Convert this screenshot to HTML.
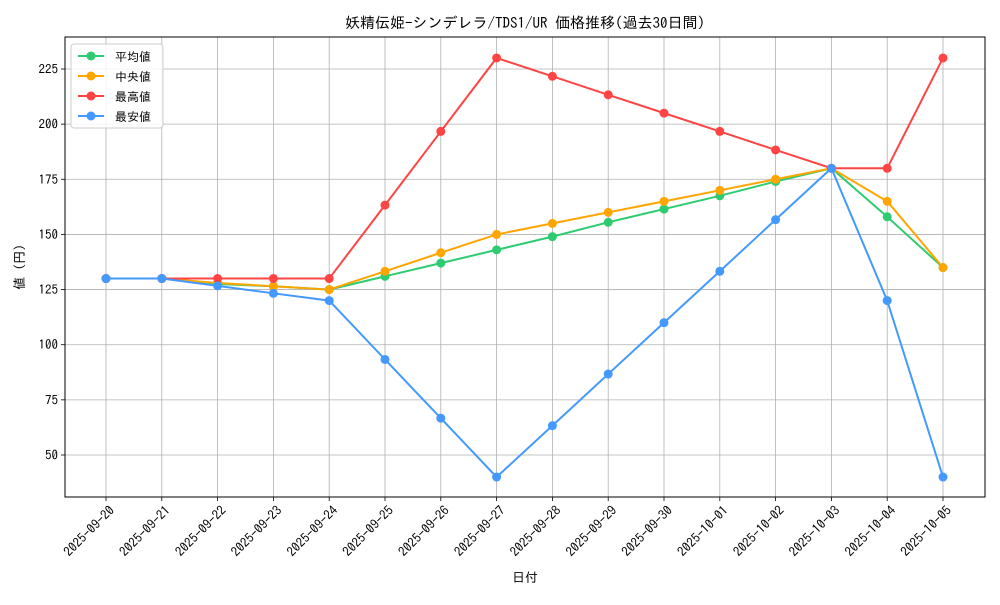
<!DOCTYPE html>
<html><head><meta charset="utf-8"><style>
body{margin:0;background:#fff;}
svg text{font-family:"IPAGothic","Liberation Sans","Noto Sans CJK JP",sans-serif;fill:#000;}
</style></head><body>
<svg id="chart" width="1000" height="600" xmlns="http://www.w3.org/2000/svg"></svg>
<script>
const categories=["2025-09-20","2025-09-21","2025-09-22","2025-09-23","2025-09-24","2025-09-25","2025-09-26","2025-09-27","2025-09-28","2025-09-29","2025-09-30","2025-10-01","2025-10-02","2025-10-03","2025-10-04","2025-10-05"];
const avgValues=[130,130,127.5,126.5,125,131,137,143,149,155.5,161.5,167.5,174,180,158,135];
const medianValues=[130,130,128,126.5,125,133.3,141.7,150,155,160,165,170,175,180,165,135];
const maxValues=[130,130,130,130,130,163.3,196.7,230,221.7,213.3,205,196.7,188.3,180,180,230];
const minValues=[130,130,126.7,123.3,120,93.3,66.7,40,63.3,86.7,110,133.3,156.7,180,120,40];
const yTicks=[50,75,100,125,150,175,200,225];
const seriesNames=["平均値","中央値","最高値","最安値"];
const seriesColors=["#2ecc71","#ffa500","#ff4444","#4499ff"];
const seriesData=[avgValues,medianValues,maxValues,minValues];

const NS="http://www.w3.org/2000/svg";
const svg=document.getElementById('chart');
const L=65,R=985,T=37,B=497;
const x=i=>106+i*(943-106)/(categories.length-1);
const y=v=>455-(v-50)*(455-69)/175;
function mk(tag,attrs,parent){const e=document.createElementNS(NS,tag);for(const k in attrs)e.setAttribute(k,attrs[k]);(parent||svg).appendChild(e);return e;}

const grid=mk('g',{});


categories.forEach((c,i)=>{mk('line',{x1:x(i),x2:x(i),y1:T,y2:B,stroke:'#b0b0b0','stroke-width':0.8},grid);});
yTicks.forEach(v=>{mk('line',{x1:L,x2:R,y1:y(v),y2:y(v),stroke:'#b0b0b0','stroke-width':0.8},grid);});

const xa=mk('g',{});


categories.forEach((c,i)=>{
  mk('line',{x1:x(i),x2:x(i),y1:B,y2:B+4,stroke:'#000','stroke-width':0.8},xa);
  const t=mk('text',{x:x(i)+3,y:B+8,'font-size':13,'text-anchor':'end',transform:`rotate(-45 ${x(i)+3} ${B+8})`,'dominant-baseline':'hanging'},xa);
  t.textContent=c;
  
  
});
const ya=mk('g',{});


yTicks.forEach(v=>{
  mk('line',{x1:L-4,x2:L,y1:y(v),y2:y(v),stroke:'#000','stroke-width':0.8},ya);
  const t=mk('text',{x:L-7,y:y(v)+4.5,'font-size':13,'text-anchor':'end'},ya);
  t.textContent=v;
  
  
});

seriesData.forEach((d,s)=>{
  const g=mk('g',{});
  
  
  mk('polyline',{points:d.map((v,i)=>x(i)+','+y(v)).join(' '),fill:'none',stroke:seriesColors[s],'stroke-width':2},g);
  d.forEach((v,i)=>{const c=mk('circle',{cx:x(i),cy:y(v),r:4.5,fill:seriesColors[s]},g);
    
    });
});

mk('rect',{x:L,y:T,width:R-L,height:B-T,fill:'none',stroke:'#000','stroke-width':1});

const lg=mk('g',{});


mk('rect',{x:71,y:44,width:92,height:84,fill:'#fff','fill-opacity':0.85,stroke:'#ccc',rx:3},lg);
seriesNames.forEach((n,s)=>{
  const yy=56+s*20;
  mk('line',{x1:78,x2:104,y1:yy,y2:yy,stroke:seriesColors[s],'stroke-width':2},lg);
  mk('circle',{cx:91,cy:yy,r:4.5,fill:seriesColors[s]},lg);
  const t=mk('text',{x:115,y:yy+5,'font-size':12},lg);
  t.textContent=n;
  
  
});

const title=mk('text',{x:525,y:28,'font-size':15,'text-anchor':'middle'});
title.textContent="妖精伝姫-シンデレラ/TDS1/UR 価格推移(過去30日間)";


const xt=mk('text',{x:525,y:582,'font-size':13,'text-anchor':'middle'});
xt.textContent="日付";


const yt=mk('text',{x:24,y:267,'font-size':13,'text-anchor':'middle',transform:'rotate(-90 24 267)'});
yt.textContent="値 (円)";


</script>
</body></html>
